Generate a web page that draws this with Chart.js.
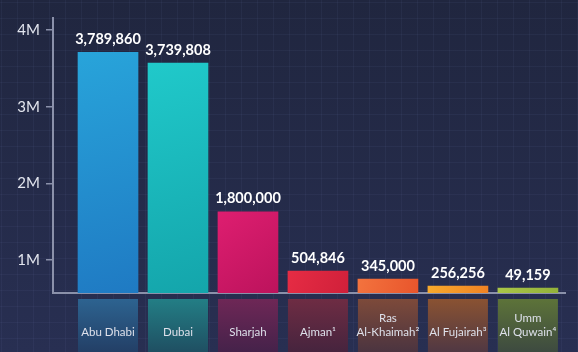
<!DOCTYPE html>
<html>
<head>
<meta charset="utf-8">
<script src="https://cdn.jsdelivr.net/npm/chart.js@4.4.1/dist/chart.umd.min.js"></script>
<style>
  html, body { margin: 0; padding: 0; background: #232944; }
  #wrap { width: 578px; height: 352px; }
</style>
</head>
<body>
<div id="wrap"><canvas id="popChart"></canvas></div>
<script>
// emirates, population labels and the bar heights as drawn (bars are not to scale with labels)
const emirates = [['', 'Abu Dhabi'], ['', 'Dubai'], ['', 'Sharjah'], ['', 'Ajman¹'], ['Ras', 'Al-Khaimah²'], ['', 'Al Fujairah³'], ['Umm', 'Al Quwain⁴']];
const population = [3789860, 3739808, 1800000, 504846, 345000, 256256, 49159];
const barHeights = [3710000, 3570000, 1630000, 857000, 753000, 661000, 635000];
const yTicks = [1000000, 2000000, 3000000, 4000000];
const yTickLabels = ['1M', '2M', '3M', '4M'];
const yMin = 570000;
const yMax = 4157000;

// colours
const barTop = ['#28a4da', '#20c9ca', '#de1e70', '#e62c44', '#f3733e', '#f8aa2c', '#aac647'];
const barBottom = ['#1f7ac3', '#14a5ab', '#bc135c', '#d0203a', '#e8552c', '#ef8224', '#93b23a'];
const bandTop = ['#2d6390', '#237e85', '#6e2756', '#6e2c43', '#7d4a3a', '#8a5232', '#5d7339'];
const bandBottom = ['#233f66', '#1f4f62', '#45224a', '#46243e', '#4b3440', '#503843', '#3d4a40'];

const backdrop = {
    id: 'backdrop',
    beforeDraw(chart) {
        const { ctx, width, height } = chart;
        ctx.save();
        const bg = ctx.createLinearGradient(0, 0, 0, height);
        bg.addColorStop(0, '#20263f');
        bg.addColorStop(1, '#282f52');
        ctx.fillStyle = bg;
        ctx.fillRect(0, 0, width, height);

        // faint background grid
        ctx.strokeStyle = 'rgba(130,145,200,0.07)';
        ctx.lineWidth = 1;
        ctx.beginPath();
        for (let x = 1.5; x < width; x += 16) { ctx.moveTo(x, 0); ctx.lineTo(x, height); }
        for (let y = 2.5; y < height; y += 16) { ctx.moveTo(0, y); ctx.lineTo(width, y); }
        ctx.stroke();

        // reflection band under the axis
        const xs = chart.scales.x;
        const top = chart.chartArea.bottom + 6;
        emirates.forEach((_, i) => {
            const cx = xs.getPixelForValue(i);
            const g = ctx.createLinearGradient(0, top, 0, height);
            g.addColorStop(0, bandTop[i]);
            g.addColorStop(1, bandBottom[i]);
            ctx.fillStyle = g;
            ctx.fillRect(cx - 30, top, 60, height - top);
        });
        ctx.restore();
    }
};

const valueLabels = {
    id: 'valueLabels',
    afterDatasetsDraw(chart) {
        const { ctx } = chart;
        const meta = chart.getDatasetMeta(0);
        ctx.save();
        ctx.fillStyle = '#ffffff';
        ctx.font = 'bold 14.5px Lato';
        ctx.textAlign = 'center';
        ctx.textBaseline = 'middle';
        meta.data.forEach((bar, i) => {
            ctx.fillText(population[i].toLocaleString('en-US'), bar.x, bar.y - 13);
        });
        ctx.restore();
    }
};

const ctx = document.getElementById('popChart').getContext('2d');
new Chart(ctx, {
    type: 'bar',
    data: {
        datasets: [{
            data: barHeights.map((v, i) => ({ x: i, y: v })),
            base: yMin,
            barThickness: 60,
            borderWidth: 0,
            backgroundColor: (c) => {
                const chart = c.chart;
                if (!chart.chartArea || c.raw === undefined) return barTop[c.dataIndex];
                const i = c.dataIndex;
                const cx = chart.scales.x.getPixelForValue(i);
                const top = chart.scales.y.getPixelForValue(c.raw.y);
                const g = chart.ctx.createLinearGradient(cx - 30, top, cx + 30, chart.chartArea.bottom);
                g.addColorStop(0, barTop[i]);
                g.addColorStop(1, barBottom[i]);
                return g;
            }
        }]
    },
    options: {
        responsive: true,
        maintainAspectRatio: false,
        animation: false,
        layout: { padding: { top: 18, right: 13, left: 0, bottom: 0 } },
        plugins: {
            legend: { display: false },
            tooltip: { enabled: false }
        },
        scales: {
            x: {
                type: 'linear',
                min: -0.786,
                max: 6.53,
                offset: false,
                grid: { display: false, drawTicks: false },
                border: { color: '#8b91aa', width: 2 },
                afterBuildTicks: (s) => { s.ticks = emirates.map((_, i) => ({ value: i })); },
                afterFit: (s) => { s.height = 59; },
                ticks: {
                    autoSkip: false,
                    maxRotation: 0,
                    padding: 19,
                    color: '#dde0ea',
                    font: { family: 'Lato', size: 11.5, lineHeight: 1.15 },
                    callback: (v, idx) => emirates[idx]
                }
            },
            y: {
                min: yMin,
                max: yMax,
                afterBuildTicks: (s) => { s.ticks = yTicks.map(v => ({ value: v })); },
                afterFit: (s) => { s.width = 53; },
                grid: { drawOnChartArea: false, drawTicks: true, tickLength: 7, color: '#8b91aa', lineWidth: 1.5 },
                border: { color: '#8b91aa', width: 2 },
                ticks: {
                    padding: 6,
                    color: '#e2e5ee',
                    font: { family: 'Lato', size: 15 },
                    callback: (v, idx) => yTickLabels[idx]
                }
            }
        }
    },
    plugins: [backdrop, valueLabels]
});
</script>
</body>
</html>
